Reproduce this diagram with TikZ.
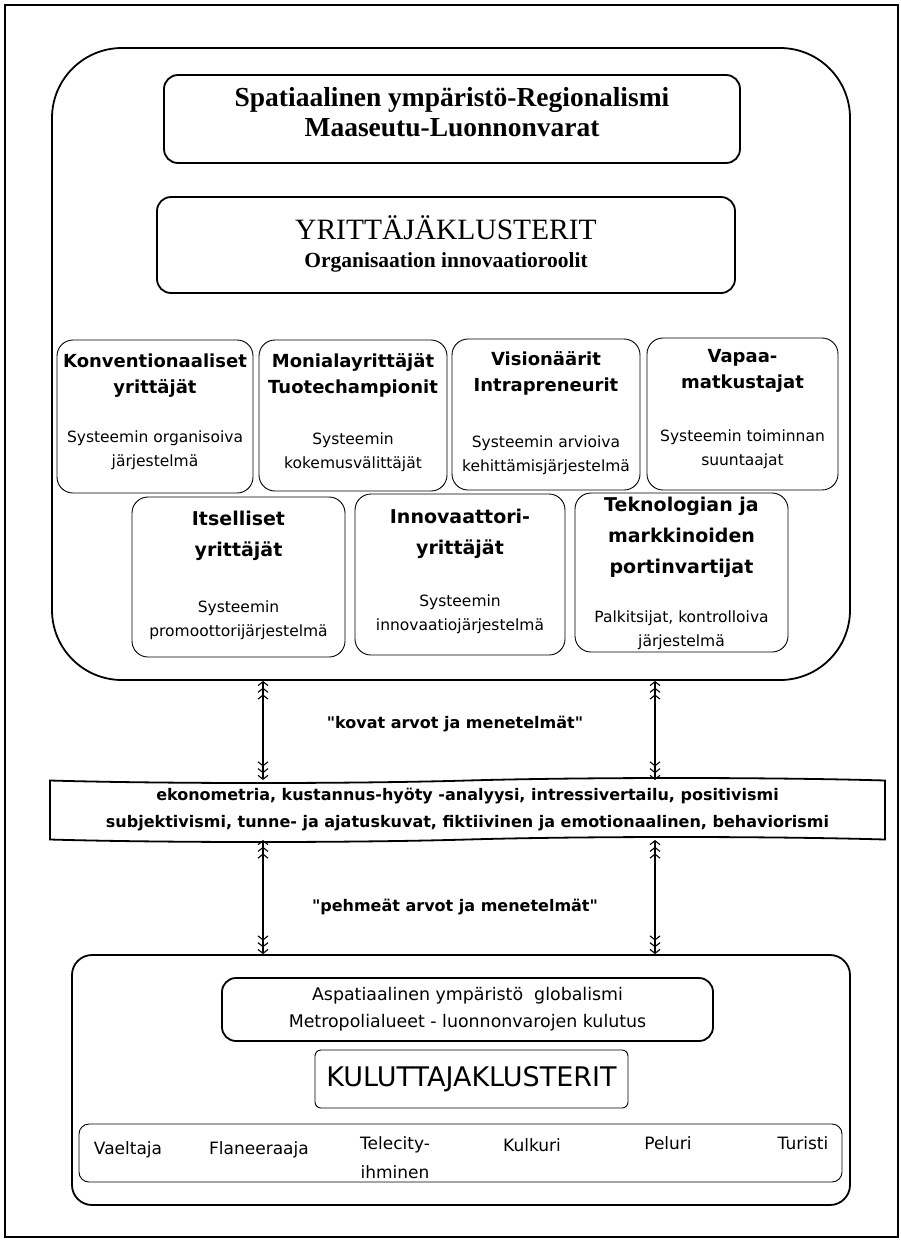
\documentclass[tikz,border=0pt]{standalone}
\usepackage{fontspec}
\setmainfont{Liberation Serif}
\newfontfamily\komik{DejaVu Sans}
\usetikzlibrary{positioning,arrows.meta,shapes.symbols}

\tikzset{
  kolmikko/.tip={Straight Barb[length=4pt,width=10pt,sep=1.5pt] Straight Barb[length=4pt,width=10pt,sep=1.5pt] Straight Barb[length=4pt,width=10pt]},
  iso/.style={draw, line width=1.8pt, rounded corners=14pt, inner sep=0pt},
  rooli/.style={draw, line width=0.9pt, rounded corners=16pt, inner sep=0pt},
  otsikko/.style={align=center, inner sep=0pt, font=\komik\bfseries\fontsize{18}{26}\selectfont},
  otsikko2/.style={otsikko, font=\komik\bfseries\fontsize{19}{31}\selectfont},
  kuvaus/.style={align=center, inner sep=0pt, font=\komik\fontsize{15.5}{24}\selectfont},
  nimi/.style={align=center, inner sep=0pt, font=\komik\fontsize{17}{29}\selectfont},
  nuoli/.style={line width=1.1pt, kolmikko-kolmikko},
}

\begin{document}
\begin{tikzpicture}[x=1pt,y=-1pt]
\useasboundingbox (0,0) rectangle (901,1240);
% kehys
\draw[line width=1.2pt] (5,5) rectangle (898,1237);

% yrittajat
\node[iso, rounded corners=70pt, minimum width=798pt, minimum height=632pt] (yla) at (451,364) {};
\node[iso, minimum width=576pt, minimum height=88pt] (spat) at (452,119) {};
\node[align=center, font=\bfseries\fontsize{27.5}{30}\selectfont] (spatteksti) at (452,112) {Spatiaalinen ympäristö-Regionalismi\\Maaseutu-Luonnonvarat};
\node[iso, minimum width=578pt, minimum height=96pt] (yklust) at (446,245) {};
\node[font=\fontsize{29.5}{32}\selectfont] (yotsikko) at (446,228) {YRITTÄJÄKLUSTERIT};
\node[font=\bfseries\fontsize{21.5}{24}\selectfont] (yrooli) at (446,262) {Organisaation innovaatioroolit};

% roolit, rivi 1
\node[rooli, minimum width=196pt, minimum height=153pt] (konv) at (155,416.5) {};
\node[otsikko] (konvot) at (155,376) {Konventionaaliset\\yrittäjät};
\node[kuvaus] (konvku) at (155,450) {Systeemin organisoiva\\järjestelmä};
\node[rooli, minimum width=188pt, minimum height=151pt] (moni) at (353,415.5) {};
\node[otsikko] (moniot) at (353,375) {Monialayrittäjät\\Tuotechampionit};
\node[kuvaus] (moniku) at (353,452) {Systeemin\\kokemusvälittäjät};
\node[rooli, minimum width=188pt, minimum height=151pt] (visio) at (546,414.5) {};
\node[otsikko] (visioot) at (546,373) {Visionäärit\\Intrapreneurit};
\node[kuvaus] (visioku) at (546,455) {Systeemin arvioiva\\kehittämisjärjestelmä};
\node[rooli, minimum width=191pt, minimum height=152pt] (vapaa) at (742.5,414) {};
\node[otsikko] (vapaaot) at (742.5,371) {Vapaa-\\matkustajat};
\node[kuvaus] (vapaaku) at (742.5,449) {Systeemin toiminnan\\suuntaajat};

% roolit, rivi 2
\node[rooli, minimum width=213pt, minimum height=160pt] (itse) at (238.5,577) {};
\node[otsikko2] (itseot) at (238.5,536) {Itselliset\\yrittäjät};
\node[kuvaus] (itseku) at (238.5,620) {Systeemin\\promoottorijärjestelmä};
\node[rooli, minimum width=210pt, minimum height=161pt] (inno) at (460,574.5) {};
\node[otsikko2] (innoot) at (460,534) {Innovaattori-\\yrittäjät};
\node[kuvaus] (innoku) at (460,614) {Systeemin\\innovaatiojärjestelmä};
\node[rooli, minimum width=213pt, minimum height=159pt] (tekn) at (681.5,572.5) {};
\node[otsikko2] (teknot) at (681.5,537) {Teknologian ja\\markkinoiden\\portinvartijat};
\node[kuvaus] (teknku) at (681.5,630) {Palkitsijat, kontrolloiva\\järjestelmä};

% menetelmat
\node[draw, line width=1.8pt, tape, tape bend top=in and out, tape bend bottom=in and out, tape bend height=5pt,
  minimum width=835pt, minimum height=64pt, inner sep=0pt, align=center,
  font=\komik\bfseries\fontsize{16}{27}\selectfont] (nauha) at (467.5,810)
  {ekonometria, kustannus-hyöty -analyysi, intressivertailu, positivismi\\subjektivismi, tunne- ja ajatuskuvat, fiktiivinen ja emotionaalinen, behaviorismi};
\node[font=\komik\bfseries\fontsize{16}{18}\selectfont] (kovat) at (455,724) {"kovat arvot ja menetelmät"};
\node[font=\komik\bfseries\fontsize{16}{18}\selectfont] (pehmeat) at (455,907) {"pehmeät arvot ja menetelmät"};

% kuluttajat
\node[iso, rounded corners=20pt, minimum width=778pt, minimum height=250pt] (ala) at (461,1080) {};
\node[iso, minimum width=491pt, minimum height=63pt, align=center, font=\komik\fontsize{17.4}{27}\selectfont] (asp) at (467.5,1009.5)
  {Aspatiaalinen ympäristö\ \ globalismi\\Metropolialueet - luonnonvarojen kulutus};
\node[rooli, rounded corners=6pt, minimum width=313pt, minimum height=58pt, font=\komik\fontsize{27}{30}\selectfont] (kklust) at (471.5,1079) {KULUTTAJAKLUSTERIT};
\node[rooli, rounded corners=10pt, minimum width=763pt, minimum height=58pt] (nimet) at (460.5,1153) {};
\node[nimi] (vaeltaja) at (128,1150) {Vaeltaja};
\node[nimi] (flaneeraaja) at (259,1150) {Flaneeraaja};
\node[nimi] (telecity) at (395,1158) {Telecity-\\ihminen};
\node[nimi] (kulkuri) at (532,1145) {Kulkuri};
\node[nimi] (peluri) at (668,1143) {Peluri};
\node[nimi] (turisti) at (803,1143) {Turisti};

% nuolet
\coordinate (vasen) at (263,0);
\coordinate (oikea) at (655,0);
\draw[nuoli] (vasen |- yla.south) -- (vasen |- nauha.north);
\draw[nuoli] (oikea |- yla.south) -- (oikea |- nauha.north);
\draw[nuoli] (vasen |- nauha.south) -- (vasen |- ala.north);
\draw[nuoli] (oikea |- nauha.south) -- (oikea |- ala.north);
\end{tikzpicture}
\end{document}
